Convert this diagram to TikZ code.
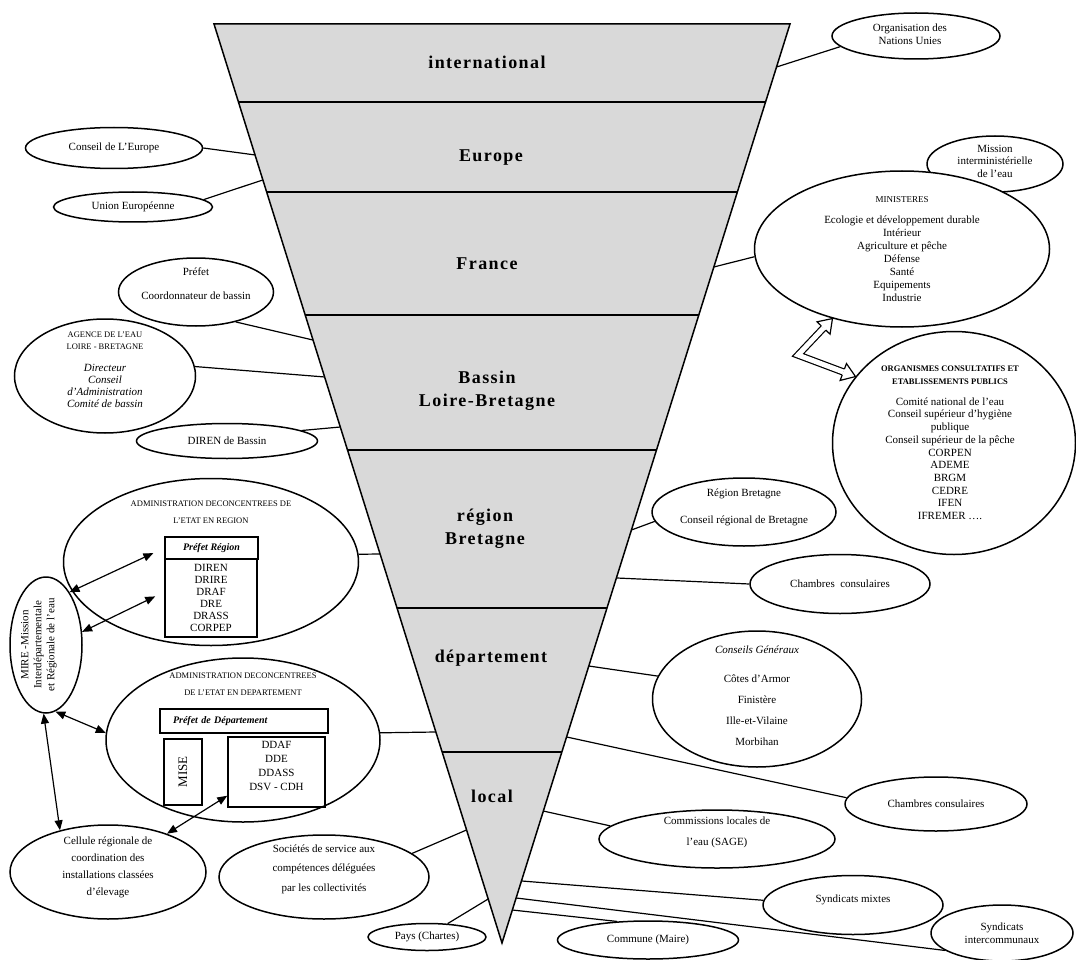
\documentclass[tikz,border=0pt]{standalone}
\usepackage{fontspec}
\setmainfont{Liberation Serif}
\usetikzlibrary{shapes.geometric, arrows.meta, calc}

\definecolor{bandgray}{RGB}{217, 217, 217}
\newcommand{\capsfont}{\fontsize{8.5}{11}\selectfont}

\begin{document}
\begin{tikzpicture}[x=1pt, y=-1pt,
  ell/.style={draw, ellipse, line width=1.5pt, inner sep=0pt},
  txt/.style={font=\fontsize{11}{13}\selectfont, align=center},
  caps/.style={font=\capsfont, align=center},
  level/.style={font=\fontsize{18}{23}\selectfont\bfseries\addfontfeature{LetterSpace=8}, align=center},
  box/.style={draw, line width=1.5pt, inner sep=0pt},
  link/.style={line width=1.2pt},
  both/.style={line width=1.2pt, {Triangle[length=10pt, width=8pt]}-{Triangle[length=10pt, width=8pt]}}
]
  \useasboundingbox (0,0) rectangle (1076,960);

  % funnel of levels
  \coordinate (tl) at (214,24);
  \coordinate (tr) at (790,24);
  \coordinate (apex) at (502,943);
  \fill[bandgray] (tl) -- (tr) -- (apex) -- cycle;
  \foreach \p in {0.0849, 0.1828, 0.3166, 0.4635, 0.6355, 0.7922}
    \draw[link] ($(tl)!\p!(apex)$) -- ($(tr)!\p!(apex)$);
  \draw[line width=1.5pt, line join=miter] (tl) -- (tr) -- (apex) -- cycle;

  \node[level] (lvInt) at (487,62) {international};
  \node[level] (lvEur) at (491,158) {Europe};
  \node[level] (lvFra) at (487,264) {France};
  \node[level] (lvBas) at (487,391) {Bassin\\Loire-Bretagne};
  \node[level] (lvReg) at (485,529) {région\\Bretagne};
  \node[level] (lvDep) at (491,658) {département};
  \node[level] (lvLoc) at (492,796) {local};

  % points on the funnel edges
  \coordinate (eCoe) at ($(tl)!0.1425!(apex)$);
  \coordinate (eUe) at ($(tl)!0.1697!(apex)$);
  \coordinate (ePref) at ($(tl)!0.3439!(apex)$);
  \coordinate (eAg) at ($(tl)!0.3841!(apex)$);
  \coordinate (eDir) at ($(tl)!0.4385!(apex)$);
  \coordinate (eAdmR) at ($(tl)!0.5767!(apex)$);
  \coordinate (eAdmD) at ($(tl)!0.7704!(apex)$);
  \coordinate (eSoc) at ($(tl)!0.8770!(apex)$);
  \coordinate (ePays) at ($(tl)!0.9521!(apex)$);
  \coordinate (eOnu) at ($(tr)!0.0468!(apex)$);
  \coordinate (eMin) at ($(tr)!0.2644!(apex)$);
  \coordinate (eRegB) at ($(tr)!0.5506!(apex)$);
  \coordinate (eChR) at ($(tr)!0.6028!(apex)$);
  \coordinate (eCg) at ($(tr)!0.6986!(apex)$);
  \coordinate (eChD) at ($(tr)!0.7758!(apex)$);
  \coordinate (eCle) at ($(tr)!0.8564!(apex)$);
  \coordinate (eSmix) at ($(tr)!0.9325!(apex)$);
  \coordinate (eSint) at ($(tr)!0.9510!(apex)$);
  \coordinate (eCom) at ($(tr)!0.9641!(apex)$);

  % international, Europe, France
  \node[ell, minimum width=168pt, minimum height=46pt,
    label={[txt, xshift=-6pt, yshift=2pt]center:{Organisation des\\Nations Unies}}] (onu) at (916,36) {};
  \node[ell, minimum width=177pt, minimum height=41pt,
    label={[txt]center:{Conseil de L’Europe}}] (coe) at (114,148) {};
  \node[ell, minimum width=159pt, minimum height=30pt,
    label={[txt]center:{Union Européenne}}] (ue) at (133,207) {};
  \node[ell, minimum width=136pt, minimum height=56pt,
    label={[txt, yshift=3pt, font=\fontsize{11}{12.5}\selectfont]center:{Mission\\interministérielle\\de l’eau}}] (mission) at (995,164) {};
  \node[ell, fill=white, minimum width=295pt, minimum height=156pt,
    label={[txt]center:{\fontsize{9}{11}\selectfont MINISTERES\\[8pt]Ecologie et développement durable\\Intérieur\\Agriculture et pêche\\Défense\\Santé\\Equipements\\Industrie}}] (min) at (902,249) {};
  \node[ell, minimum width=243pt, minimum height=223pt,
    label={[txt, xshift=-4pt, font=\fontsize{11}{12.7}\selectfont]center:{\capsfont\bfseries ORGANISMES CONSULTATIFS ET\\\capsfont\bfseries ETABLISSEMENTS PUBLICS\\[8pt]Comité national de l’eau\\Conseil supérieur d’hygiène\\publique\\Conseil supérieur de la pêche\\CORPEN\\ADEME\\BRGM\\CEDRE\\IFEN\\IFREMER ….}}] (org) at (954,443) {};

  % hollow double arrow
  \coordinate (zc) at (798,355);
  \coordinate (zt1) at (min.225);
  \coordinate (zt2) at (org.146);
  \coordinate (zb1) at ($(zt1)!13pt!(zc)$);
  \coordinate (zb2) at ($(zt2)!13pt!(zc)$);
  \draw[line width=1.2pt, double=white, double distance=5pt, line join=miter] (zb1) -- (zc) -- (zb2);
  \foreach \b/\e in {zb1/zt1, zb2/zt2}
    \filldraw[fill=white, line width=1.2pt, line join=miter] ($(\b)!3.1pt!90:(zc)$) -- ($(\b)!9pt!90:(zc)$) -- (\e) -- ($(\b)!9pt!-90:(zc)$) -- ($(\b)!3.1pt!-90:(zc)$);

  % Bassin
  \node[ell, minimum width=155pt, minimum height=68pt,
    label={[txt, yshift=8pt]center:{Préfet\\[11pt]Coordonnateur de bassin}}] (prefet) at (196,292) {};
  \node[ell, minimum width=181pt, minimum height=114pt,
    label={[txt, yshift=6pt, font=\fontsize{11}{12}\selectfont\itshape]center:{\upshape\capsfont AGENCE DE L’EAU\\\upshape\capsfont LOIRE - BRETAGNE\\[10pt]Directeur\\Conseil\\d’Administration\\Comité de bassin}}] (agence) at (105,376) {};
  \node[ell, minimum width=181pt, minimum height=35pt,
    label={[txt]center:{DIREN de Bassin}}] (direnB) at (227,441) {};

  % region
  \node[ell, minimum width=295pt, minimum height=167pt,
    label={[caps, yshift=50pt]center:{ADMINISTRATION DECONCENTREES DE\\[6pt]L’ETAT EN REGION}}] (adminR) at (211,562) {};
  \node[box, minimum width=93pt, minimum height=22pt, font=\fontsize{10}{12}\selectfont\bfseries\itshape] (prefR) at (211.5,548) {Préfet Région};
  \node[box, minimum width=92pt, minimum height=78pt, txt, font=\fontsize{11}{12}\selectfont] (regList) at (211,598) {DIREN\\DRIRE\\DRAF\\DRE\\DRASS\\CORPEP};

  \node[ell, minimum width=72pt, minimum height=136pt] (mire) at (46,645) {};
  \node[txt, rotate=90, font=\fontsize{11}{13}\selectfont] (mireTxt) at (39,645) {MIRE -Mission\\Interdépartementale\\et Régionale de l’eau};

  % department
  \node[ell, minimum width=274pt, minimum height=164pt,
    label={[caps, yshift=56pt]center:{ADMINISTRATION DECONCENTREES\\[6pt]DE L’ETAT EN DEPARTEMENT}}] (adminD) at (243,740) {};
  \node[box, minimum width=168pt, minimum height=24pt, text width=142pt, inner xsep=13pt, align=left, font=\fontsize{10}{12}\selectfont\bfseries\itshape] (prefD) at (244,721) {Préfet de Département};
  \node[box, rotate=90, minimum width=66pt, minimum height=38pt, font=\fontsize{13}{15}\selectfont] (mise) at (183,772) {MISE};
  \node[box, minimum width=97pt, minimum height=70pt,
    label={[txt, yshift=6pt, font=\fontsize{11}{14}\selectfont]center:{DDAF\\DDE\\DDASS\\DSV - CDH}}] (dsvBox) at (276.5,772) {};

  % local, left
  \node[ell, minimum width=196pt, minimum height=94pt,
    label={[txt, yshift=5pt, font=\fontsize{11}{17}\selectfont]center:{Cellule régionale de\\coordination des\\installations classées\\d’élevage}}] (cell) at (108,872) {};
  \node[ell, minimum width=210pt, minimum height=84pt,
    label={[txt, yshift=8pt, font=\fontsize{11}{19.5}\selectfont]center:{Sociétés de service aux\\compétences déléguées\\par les collectivités}}] (soc) at (324,877) {};
  \node[ell, minimum width=118pt, minimum height=27pt,
    label={[txt]center:{Pays (Chartes)}}] (pays) at (427,937) {};

  % right side
  \node[ell, minimum width=184pt, minimum height=68pt,
    label={[txt, yshift=5pt]center:{Région Bretagne\\[14pt]Conseil régional de Bretagne}}] (regB) at (744,512) {};
  \node[ell, minimum width=180pt, minimum height=59pt,
    label={[txt]center:{Chambres\ \ consulaires}}] (chR) at (840,584) {};
  \node[ell, minimum width=209pt, minimum height=136pt,
    label={[txt, yshift=3pt, font=\fontsize{11}{21}\selectfont]center:{\itshape Conseils Généraux\\[8pt]Côtes d’Armor\\Finistère\\Ille-et-Vilaine\\Morbihan}}] (cg) at (757,699) {};
  \node[ell, minimum width=182pt, minimum height=54pt,
    label={[txt]center:{Chambres consulaires}}] (chD) at (936,804) {};
  \node[ell, minimum width=236pt, minimum height=58pt,
    label={[txt, yshift=7pt, font=\fontsize{11}{21}\selectfont]center:{Commissions locales de\\l’eau (SAGE)}}] (cle) at (717,839) {};
  \node[ell, minimum width=180pt, minimum height=59pt,
    label={[txt, yshift=5pt]center:{Syndicats mixtes}}] (smix) at (853,905) {};
  \node[ell, minimum width=142pt, minimum height=56pt,
    label={[txt]center:{Syndicats\\intercommunaux}}] (sint) at (1002,933) {};
  \node[ell, minimum width=181pt, minimum height=38pt,
    label={[txt]center:{Commune (Maire)}}] (commune) at (648,940) {};

  % links to the funnel
  \draw[link] (onu.188) -- (eOnu);
  \draw[link] (coe.0) -- (eCoe);
  \draw[link] (ue.6) -- (eUe);
  \draw[link] (min.183) -- (eMin);
  \draw[link] (prefet.-37) -- (ePref);
  \draw[link] (agence.6) -- (eAg);
  \draw[link] (direnB.8) -- (eDir);
  \draw[link] (adminR.3) -- (eAdmR);
  \draw[link] (adminD.3) -- (eAdmD);
  \draw[link] (soc.15) -- (eSoc);
  \draw[link] (pays.33) -- (ePays);
  \draw[link] (regB.186) -- (eRegB);
  \draw[link] (chR.180) -- (eChR);
  \draw[link] (cg.167) -- (eCg);
  \draw[link] (chD.176) -- (eChD);
  \draw[link] (cle.173) -- (eCle);
  \draw[link] (smix.177) -- (eSmix);
  \draw[link] (sint.197) -- (eSint);
  \draw[link] (commune.149) -- (eCom);

  % two-way arrows
  \draw[both, shorten >=12pt] (mire.66) -- (prefR.west);
  \draw[both, shorten >=10pt] (mire.20) -- ([yshift=6pt]regList.west);
  \draw[both] (mire.-82) -- (adminD.177);
  \draw[both] (mire.-92) -- (cell.139);
  \draw[both] ([yshift=12pt]dsvBox.south west) -- (cell.33);
\end{tikzpicture}
\end{document}
